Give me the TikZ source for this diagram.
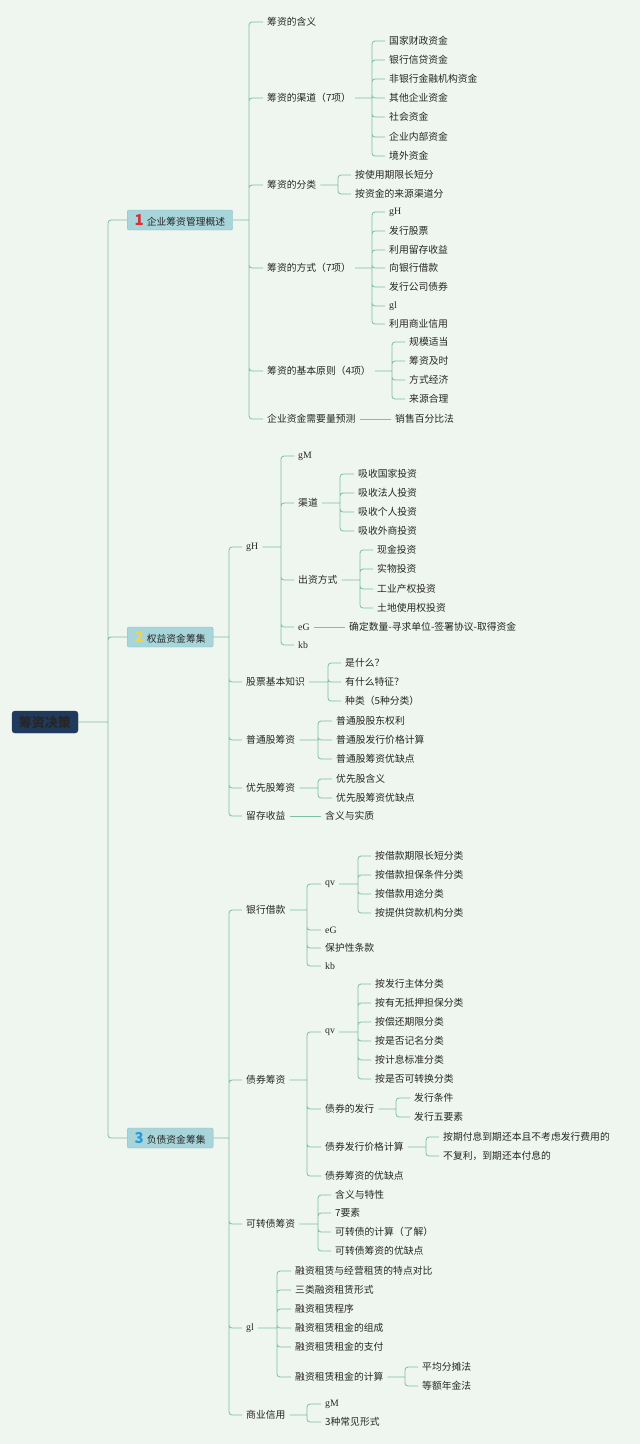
\documentclass[tikz,border=0pt]{standalone}
\usepackage{fontspec}
\setmainfont{Noto Sans CJK SC}
\newfontfamily\latf{Liberation Serif}
\usepackage{xcolor}
\usepackage{tikz}
\usetikzlibrary{positioning,calc}

\definecolor{bgmint}{HTML}{EEF6EF}
\definecolor{linkteal}{HTML}{7DBFA5}
\definecolor{secfill}{HTML}{A8D5DA}
\definecolor{secline}{HTML}{86BFC5}
\definecolor{rootnavy}{HTML}{1F3A5C}
\definecolor{numred}{HTML}{D6303A}
\definecolor{numyellow}{HTML}{F2D544}
\definecolor{numblue}{HTML}{2B9AD6}
\definecolor{inkgray}{HTML}{262626}

\newcommand\fs{\fontsize{9.8}{11}\selectfont}
\newcommand\secnum[2]{{\color{#1}\fontsize{15}{15}\selectfont\bfseries #2}\hspace{3pt}}

\begin{document}
\begin{tikzpicture}[
  x=1pt, y=-1pt,
  root/.style={draw=rootnavy, fill=rootnavy, rounded corners=3pt, minimum width=66pt, minimum height=22pt, inner sep=2pt, font=\fontsize{13}{13}\selectfont\bfseries, text=black!85},
  sec/.style={anchor=west, draw=secline, fill=secfill, rounded corners=2pt, minimum height=20pt, inner xsep=7.5pt, inner ysep=1pt, font=\fs, text=inkgray},
  item/.style={anchor=west, inner xsep=4pt, inner ysep=1pt, font=\fs, text=inkgray},
  link/.style={draw=linkteal, line width=0.8pt, rounded corners=3pt}
]
  % background
  \fill[bgmint] (0,0) rectangle (640,1444);

  % Root
  \node[root] (root) at (45,722) {筹资决策};
  \coordinate (rootS) at (108,722);

  % Sections
  \node[sec] (secA) at (127,220) {\secnum{numred}{1}企业筹资管理概述};
  \node[sec] (secB) at (127,637) {\secnum{numyellow}{2}权益资金筹集};
  \node[sec] (secC) at (127,1138) {\secnum{numblue}{3}负债资金筹集};
  \draw[link] (root.east) -- (rootS) (rootS) |- (secA.west) (rootS) |- (secB.west) (rootS) |- (secC.west);

  % ---- 1 企业筹资管理概述
  \coordinate (secAS) at (249,220);
  \node[item] (mean) at (263,22) {筹资的含义};
  \node[item] (chan) at (263,98) {筹资的渠道（7项）};
  \node[item] (kind) at (263,185) {筹资的分类};
  \node[item] (way) at (263,268) {筹资的方式（7项）};
  \node[item] (rule) at (263,371) {筹资的基本原则（4项）};
  \node[item] (need) at (263,419) {企业资金需要量预测};
  \draw[link] (secA.east) -- (secAS) (secAS) |- (mean.west) (secAS) |- (chan.west) (secAS) |- (kind.west)
    (secAS) |- (way.west) (secAS) |- (rule.west) (secAS) |- (need.west);

  % channels
  \coordinate (chanS) at (372,98);
  \node[item] (chan1) at (385,41) {国家财政资金};
  \node[item] (chan2) at (385,60) {银行信贷资金};
  \node[item] (chan3) at (385,79) {非银行金融机构资金};
  \node[item] (chan4) at (385,98) {其他企业资金};
  \node[item] (chan5) at (385,117) {社会资金};
  \node[item] (chan6) at (385,137) {企业内部资金};
  \node[item] (chan7) at (385,156) {境外资金};
  \draw[link] (chan.east) -- (chanS) (chanS) |- (chan1.west) (chanS) |- (chan2.west) (chanS) |- (chan3.west)
    (chanS) |- (chan4.west) (chanS) |- (chan5.west) (chanS) |- (chan6.west) (chanS) |- (chan7.west);

  % classification
  \coordinate (kindS) at (338,185);
  \node[item] (kind1) at (351,175) {按使用期限长短分};
  \node[item] (kind2) at (351,194) {按资金的来源渠道分};
  \draw[link] (kind.east) -- (kindS) (kindS) |- (kind1.west) (kindS) |- (kind2.west);

  % ways
  \coordinate (wayS) at (372,268);
  \node[item] (way1) at (385,212) {\latf gH};
  \node[item] (way2) at (385,231) {发行股票};
  \node[item] (way3) at (385,250) {利用留存收益};
  \node[item] (way4) at (385,268) {向银行借款};
  \node[item] (way5) at (385,287) {发行公司债券};
  \node[item] (way6) at (385,306) {\latf gl};
  \node[item] (way7) at (385,324) {利用商业信用};
  \draw[link] (way.east) -- (wayS) (wayS) |- (way1.west) (wayS) |- (way2.west) (wayS) |- (way3.west)
    (wayS) |- (way4.west) (wayS) |- (way5.west) (wayS) |- (way6.west) (wayS) |- (way7.west);

  % principles
  \coordinate (ruleS) at (392,371);
  \node[item] (rule1) at (405,342) {规模适当};
  \node[item] (rule2) at (405,361) {筹资及时};
  \node[item] (rule3) at (405,380) {方式经济};
  \node[item] (rule4) at (405,399) {来源合理};
  \draw[link] (rule.east) -- (ruleS) (ruleS) |- (rule1.west) (ruleS) |- (rule2.west) (ruleS) |- (rule3.west) (ruleS) |- (rule4.west);

  \node[item] (need1) at (391,419) {销售百分比法};
  \draw[link] (need.east) -- (need1.west);

  % ---- 2 权益资金筹集
  \coordinate (secBS) at (229,637);
  \node[item] (eqA) at (242,547) {\latf gH};
  \node[item] (stock) at (242,682) {股票基本知识};
  \node[item] (common) at (242,740) {普通股筹资};
  \node[item] (pref) at (242,788) {优先股筹资};
  \node[item] (keep) at (242,816) {留存收益};
  \draw[link] (secB.east) -- (secBS) (secBS) |- (eqA.west) (secBS) |- (stock.west) (secBS) |- (common.west)
    (secBS) |- (pref.west) (secBS) |- (keep.west);

  \coordinate (eqAS) at (281,547);
  \node[item] (eqA1) at (294,456) {\latf gM};
  \node[item] (road) at (294,503) {渠道};
  \node[item] (give) at (294,580) {出资方式};
  \node[item] (eqA4) at (294,627) {\latf eG};
  \node[item] (eqA5) at (294,645) {\latf kb};
  \draw[link] (eqA.east) -- (eqAS) (eqAS) |- (eqA1.west) (eqAS) |- (road.west) (eqAS) |- (give.west)
    (eqAS) |- (eqA4.west) (eqAS) |- (eqA5.west);

  \coordinate (roadS) at (340,503);
  \node[item] (road1) at (354,474) {吸收国家投资};
  \node[item] (road2) at (354,493) {吸收法人投资};
  \node[item] (road3) at (354,512) {吸收个人投资};
  \node[item] (road4) at (354,531) {吸收外商投资};
  \draw[link] (road.east) -- (roadS) (roadS) |- (road1.west) (roadS) |- (road2.west) (roadS) |- (road3.west) (roadS) |- (road4.west);

  \coordinate (giveS) at (360,580);
  \node[item] (give1) at (373,550) {现金投资};
  \node[item] (give2) at (373,569) {实物投资};
  \node[item] (give3) at (373,589) {工业产权投资};
  \node[item] (give4) at (373,608) {土地使用权投资};
  \draw[link] (give.east) -- (giveS) (giveS) |- (give1.west) (giveS) |- (give2.west) (giveS) |- (give3.west) (giveS) |- (give4.west);

  \node[item] (steps) at (345,627) {确定数量-寻求单位-签署协议-取得资金};
  \draw[link] (eqA4.east) -- (steps.west);

  \coordinate (stockS) at (328,682);
  \node[item] (stock1) at (341,663) {是什么？};
  \node[item] (stock2) at (341,682) {有什么特征？};
  \node[item] (stock3) at (341,701) {种类（5种分类）};
  \draw[link] (stock.east) -- (stockS) (stockS) |- (stock1.west) (stockS) |- (stock2.west) (stockS) |- (stock3.west);

  \coordinate (commonS) at (318,740);
  \node[item] (common1) at (332,721) {普通股股东权利};
  \node[item] (common2) at (332,740) {普通股发行价格计算};
  \node[item] (common3) at (332,759) {普通股筹资优缺点};
  \draw[link] (common.east) -- (commonS) (commonS) |- (common1.west) (commonS) |- (common2.west) (commonS) |- (common3.west);

  \coordinate (prefS) at (318,788);
  \node[item] (pref1) at (332,779) {优先股含义};
  \node[item] (pref2) at (332,798) {优先股筹资优缺点};
  \draw[link] (pref.east) -- (prefS) (prefS) |- (pref1.west) (prefS) |- (pref2.west);

  \node[item] (keep1) at (321,816) {含义与实质};
  \draw[link] (keep.east) -- (keep1.west);

  % ---- 3 负债资金筹集
  \coordinate (secCS) at (229,1138);
  \node[item] (loan) at (242,910) {银行借款};
  \node[item] (bond) at (242,1080) {债券筹资};
  \node[item] (conv) at (242,1224) {可转债筹资};
  \node[item] (lease) at (242,1328) {\latf gl};
  \node[item] (credit) at (242,1415) {商业信用};
  \draw[link] (secC.east) -- (secCS) (secCS) |- (loan.west) (secCS) |- (bond.west) (secCS) |- (conv.west)
    (secCS) |- (lease.west) (secCS) |- (credit.west);

  \coordinate (loanS) at (307,910);
  \node[item] (loanq) at (321,884) {\latf qv};
  \node[item] (loan2) at (321,930) {\latf eG};
  \node[item] (loan3) at (321,948) {保护性条款};
  \node[item] (loan4) at (321,966) {\latf kb};
  \draw[link] (loan.east) -- (loanS) (loanS) |- (loanq.west) (loanS) |- (loan2.west) (loanS) |- (loan3.west) (loanS) |- (loan4.west);

  \coordinate (loanqS) at (358,884);
  \node[item] (loanq1) at (371,856) {按借款期限长短分类};
  \node[item] (loanq2) at (371,875) {按借款担保条件分类};
  \node[item] (loanq3) at (371,894) {按借款用途分类};
  \node[item] (loanq4) at (371,913) {按提供贷款机构分类};
  \draw[link] (loanq.east) -- (loanqS) (loanqS) |- (loanq1.west) (loanqS) |- (loanq2.west) (loanqS) |- (loanq3.west) (loanqS) |- (loanq4.west);

  \coordinate (bondS) at (307,1080);
  \node[item] (bondq) at (321,1032) {\latf qv};
  \node[item] (issue) at (321,1109) {债券的发行};
  \node[item] (price) at (321,1147) {债券发行价格计算};
  \node[item] (bond4) at (321,1176) {债券筹资的优缺点};
  \draw[link] (bond.east) -- (bondS) (bondS) |- (bondq.west) (bondS) |- (issue.west) (bondS) |- (price.west) (bondS) |- (bond4.west);

  \coordinate (bondqS) at (358,1032);
  \node[item] (bondq1) at (371,984) {按发行主体分类};
  \node[item] (bondq2) at (371,1003) {按有无抵押担保分类};
  \node[item] (bondq3) at (371,1022) {按偿还期限分类};
  \node[item] (bondq4) at (371,1041) {按是否记名分类};
  \node[item] (bondq5) at (371,1060) {按计息标准分类};
  \node[item] (bondq6) at (371,1079) {按是否可转换分类};
  \draw[link] (bondq.east) -- (bondqS) (bondqS) |- (bondq1.west) (bondqS) |- (bondq2.west) (bondqS) |- (bondq3.west)
    (bondqS) |- (bondq4.west) (bondqS) |- (bondq5.west) (bondqS) |- (bondq6.west);

  \coordinate (issueS) at (396,1109);
  \node[item] (issue1) at (410,1098) {发行条件};
  \node[item] (issue2) at (410,1117) {发行五要素};
  \draw[link] (issue.east) -- (issueS) (issueS) |- (issue1.west) (issueS) |- (issue2.west);

  \coordinate (priceS) at (426,1147);
  \node[item] (price1) at (439,1137) {按期付息到期还本且不考虑发行费用的};
  \node[item] (price2) at (439,1156) {不复利，到期还本付息的};
  \draw[link] (price.east) -- (priceS) (priceS) |- (price1.west) (priceS) |- (price2.west);

  \coordinate (convS) at (318,1224);
  \node[item] (conv1) at (331,1195) {含义与特性};
  \node[item] (conv2) at (331,1213) {7要素};
  \node[item] (conv3) at (331,1232) {可转债的计算（了解）};
  \node[item] (conv4) at (331,1251) {可转债筹资的优缺点};
  \draw[link] (conv.east) -- (convS) (convS) |- (conv1.west) (convS) |- (conv2.west) (convS) |- (conv3.west) (convS) |- (conv4.west);

  \coordinate (leaseS) at (277,1328);
  \node[item] (lease1) at (291,1271) {融资租赁与经营租赁的特点对比};
  \node[item] (lease2) at (291,1290) {三类融资租赁形式};
  \node[item] (lease3) at (291,1309) {融资租赁程序};
  \node[item] (lease4) at (291,1328) {融资租赁租金的组成};
  \node[item] (lease5) at (291,1347) {融资租赁租金的支付};
  \node[item] (rent) at (291,1377) {融资租赁租金的计算};
  \draw[link] (lease.east) -- (leaseS) (leaseS) |- (lease1.west) (leaseS) |- (lease2.west) (leaseS) |- (lease3.west)
    (leaseS) |- (lease4.west) (leaseS) |- (lease5.west) (leaseS) |- (rent.west);

  \coordinate (rentS) at (405,1377);
  \node[item] (rent1) at (418,1367) {平均分摊法};
  \node[item] (rent2) at (418,1386) {等额年金法};
  \draw[link] (rent.east) -- (rentS) (rentS) |- (rent1.west) (rentS) |- (rent2.west);

  \coordinate (creditS) at (307,1415);
  \node[item] (credit1) at (321,1404) {\latf gM};
  \node[item] (credit2) at (321,1422) {3种常见形式};
  \draw[link] (credit.east) -- (creditS) (creditS) |- (credit1.west) (creditS) |- (credit2.west);
\end{tikzpicture}
\end{document}
